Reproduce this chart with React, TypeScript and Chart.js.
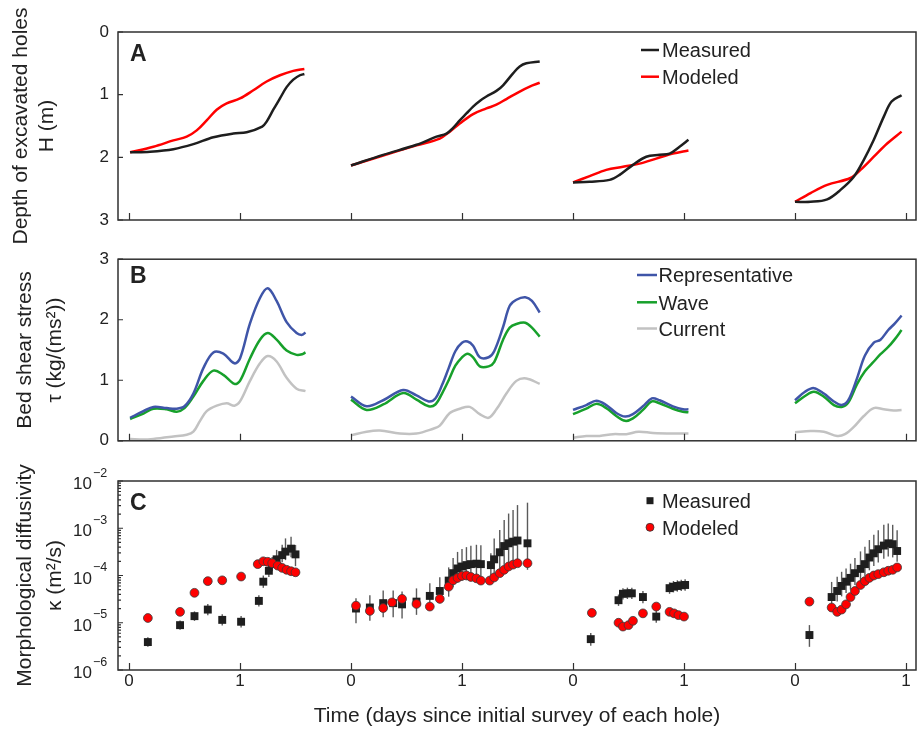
import React, { useEffect, useRef } from 'react';
import { Chart, registerables } from 'chart.js';

Chart.register(...registerables);

const FONT = '"Liberation Sans", Arial, Helvetica, sans-serif';
const TEXT = '#222222';

// ---------- shared x axis ----------
const holeOffsets = [0, 2, 4, 6];
const xTickValues = [0, 1, 2, 3, 4, 5, 6, 7];
const xTickLabels = ['0', '1', '0', '1', '0', '1', '0', '1'];

// ---------- Panel A: depth of excavated holes H (m) ----------
const depthTicks = [0, 1, 2, 3];
const depthMeasuredT = [
  [0.01, 0.19, 0.40, 0.58, 0.76, 0.94, 1.06, 1.20, 1.24, 1.30, 1.36, 1.42, 1.48, 1.54, 1.58],
  [0.0, 0.29, 0.59, 0.77, 0.86, 0.92, 0.98, 1.04, 1.10, 1.16, 1.22, 1.31, 1.37, 1.46, 1.52, 1.58, 1.70],
  [0.0, 0.15, 0.33, 0.42, 0.54, 0.66, 0.78, 0.87, 0.96, 1.04],
  [0.0, 0.14, 0.29, 0.41, 0.53, 0.62, 0.71, 0.80, 0.87, 0.96],
];
const depthMeasured = [
  [1.92, 1.91, 1.87, 1.79, 1.68, 1.62, 1.60, 1.51, 1.43, 1.24, 1.06, 0.88, 0.76, 0.69, 0.67],
  [2.13, 1.96, 1.80, 1.67, 1.62, 1.53, 1.41, 1.30, 1.19, 1.10, 1.03, 0.94, 0.85, 0.66, 0.55, 0.50, 0.47],
  [2.40, 2.39, 2.36, 2.28, 2.12, 1.99, 1.96, 1.94, 1.83, 1.72],
  [2.71, 2.71, 2.67, 2.52, 2.31, 2.04, 1.72, 1.35, 1.11, 1.01],
];
const depthModeledT = [
  [0.01, 0.22, 0.40, 0.52, 0.61, 0.70, 0.79, 0.88, 1.00, 1.12, 1.24, 1.36, 1.48, 1.58],
  [0.0, 0.29, 0.59, 0.80, 0.89, 0.98, 1.10, 1.22, 1.31, 1.40, 1.52, 1.61, 1.70],
  [0.0, 0.15, 0.30, 0.45, 0.60, 0.75, 0.90, 1.04],
  [0.0, 0.14, 0.29, 0.50, 0.59, 0.71, 0.83, 0.96],
];
const depthModeled = [
  [1.92, 1.83, 1.73, 1.67, 1.57, 1.41, 1.24, 1.14, 1.06, 0.93, 0.79, 0.69, 0.62, 0.59],
  [2.13, 1.97, 1.81, 1.70, 1.59, 1.46, 1.31, 1.22, 1.16, 1.07, 0.95, 0.87, 0.81],
  [2.40, 2.30, 2.20, 2.15, 2.10, 2.02, 1.94, 1.89],
  [2.71, 2.57, 2.44, 2.33, 2.20, 1.99, 1.78, 1.59],
];

// ---------- Panel B: bed shear stress ----------
const stressTicks = [0, 1, 2, 3];
const stressT = [
  [0.01, 0.13, 0.22, 0.34, 0.43, 0.50, 0.58, 0.67, 0.76, 0.85, 0.95, 1.00, 1.09, 1.18, 1.25, 1.33, 1.42, 1.51, 1.56, 1.59],
  [0.0, 0.14, 0.29, 0.47, 0.59, 0.70, 0.76, 0.82, 0.88, 0.94, 1.00, 1.05, 1.10, 1.16, 1.24, 1.29, 1.37, 1.43, 1.49, 1.57, 1.63, 1.70],
  [0.0, 0.12, 0.21, 0.30, 0.39, 0.47, 0.54, 0.63, 0.71, 0.78, 0.90, 0.99, 1.04],
  [0.0, 0.09, 0.17, 0.26, 0.35, 0.42, 0.48, 0.56, 0.63, 0.71, 0.77, 0.84, 0.90, 0.96],
];
const stressRepresentative = [
  [0.38, 0.49, 0.56, 0.54, 0.53, 0.57, 0.78, 1.20, 1.46, 1.44, 1.28, 1.36, 1.94, 2.36, 2.52, 2.31, 1.96, 1.78, 1.75, 1.79],
  [0.73, 0.57, 0.67, 0.84, 0.75, 0.65, 0.70, 0.92, 1.20, 1.48, 1.62, 1.64, 1.57, 1.38, 1.38, 1.48, 1.88, 2.23, 2.33, 2.37, 2.31, 2.12],
  [0.51, 0.59, 0.66, 0.59, 0.46, 0.40, 0.44, 0.57, 0.70, 0.67, 0.57, 0.52, 0.52],
  [0.67, 0.81, 0.87, 0.78, 0.65, 0.59, 0.67, 1.04, 1.41, 1.62, 1.67, 1.83, 1.94, 2.07],
];
const stressWave = [
  [0.36, 0.45, 0.53, 0.52, 0.48, 0.54, 0.73, 0.99, 1.16, 1.09, 0.94, 0.99, 1.36, 1.67, 1.78, 1.67, 1.49, 1.42, 1.43, 1.46],
  [0.68, 0.51, 0.60, 0.79, 0.68, 0.57, 0.60, 0.78, 1.00, 1.24, 1.38, 1.44, 1.38, 1.23, 1.23, 1.30, 1.67, 1.87, 1.93, 1.95, 1.87, 1.72],
  [0.44, 0.53, 0.61, 0.54, 0.41, 0.33, 0.37, 0.51, 0.65, 0.62, 0.53, 0.48, 0.47],
  [0.62, 0.74, 0.81, 0.73, 0.59, 0.56, 0.63, 0.94, 1.15, 1.31, 1.43, 1.55, 1.68, 1.83],
];
const stressCurrentT = [
  [0.01, 0.13, 0.22, 0.40, 0.52, 0.58, 0.64, 0.70, 0.79, 0.88, 0.95, 1.00, 1.09, 1.18, 1.25, 1.33, 1.42, 1.51, 1.59],
  [0.0, 0.14, 0.26, 0.44, 0.59, 0.74, 0.80, 0.89, 0.98, 1.07, 1.16, 1.24, 1.31, 1.40, 1.49, 1.58, 1.70],
  [0.0, 0.12, 0.24, 0.36, 0.48, 0.59, 0.72, 0.90, 1.04],
  [0.0, 0.14, 0.26, 0.38, 0.45, 0.53, 0.62, 0.71, 0.80, 0.89, 0.96],
];
const stressCurrent = [
  [0.03, 0.02, 0.03, 0.07, 0.10, 0.15, 0.33, 0.49, 0.58, 0.62, 0.58, 0.65, 0.99, 1.28, 1.40, 1.31, 1.04, 0.86, 0.82],
  [0.09, 0.15, 0.17, 0.12, 0.12, 0.20, 0.25, 0.46, 0.53, 0.56, 0.44, 0.38, 0.52, 0.78, 0.99, 1.03, 0.94],
  [0.05, 0.08, 0.08, 0.11, 0.11, 0.15, 0.13, 0.12, 0.12],
  [0.14, 0.16, 0.15, 0.08, 0.11, 0.23, 0.41, 0.54, 0.52, 0.50, 0.51],
];

// ---------- Panel C: morphological diffusivity ----------
const kappaTicks = [1e-6, 1e-5, 1e-4, 1e-3, 1e-2];
const kappaTickExponents = ['\u22126', '\u22125', '\u22124', '\u22123', '\u22122'];
const kappaMeasuredT = [
  [0.17, 0.46, 0.59, 0.71, 0.84, 1.01, 1.17, 1.21, 1.26, 1.29, 1.33, 1.38, 1.41, 1.46, 1.50],
  [0.045, 0.17, 0.29, 0.38, 0.46, 0.59, 0.71, 0.80, 0.88, 0.92, 0.96, 1.00, 1.04, 1.08, 1.13, 1.17, 1.26, 1.29, 1.34, 1.38, 1.42, 1.46, 1.50, 1.59],
  [0.16, 0.41, 0.45, 0.49, 0.53, 0.63, 0.75, 0.87, 0.905, 0.94, 0.975, 1.01],
  [0.13, 0.33, 0.38, 0.42, 0.46, 0.50, 0.54, 0.59, 0.63, 0.67, 0.71, 0.75, 0.80, 0.84, 0.88, 0.92],
];
const kappaMeasured = [
  [3.9e-6, 8.9e-6, 1.38e-5, 1.9e-5, 1.15e-5, 1.05e-5, 2.9e-5, 7.4e-5, 1.26e-4, 1.74e-4, 2.2e-4, 2.7e-4, 3.2e-4, 3.7e-4, 2.8e-4],
  [2.0e-5, 2.1e-5, 2.6e-5, 2.6e-5, 2.45e-5, 2.8e-5, 3.7e-5, 4.7e-5, 7.8e-5, 1.12e-4, 1.41e-4, 1.55e-4, 1.66e-4, 1.74e-4, 1.78e-4, 1.74e-4, 1.66e-4, 2.2e-4, 3.1e-4, 4.2e-4, 4.8e-4, 5.2e-4, 5.5e-4, 4.8e-4],
  [4.5e-6, 3.0e-5, 4.1e-5, 4.2e-5, 4.2e-5, 3.5e-5, 1.35e-5, 5.4e-5, 5.8e-5, 6.0e-5, 6.2e-5, 6.3e-5],
  [5.5e-6, 3.5e-5, 4.7e-5, 6.0e-5, 7.4e-5, 8.9e-5, 1.12e-4, 1.38e-4, 1.74e-4, 2.4e-4, 2.95e-4, 3.6e-4, 4.3e-4, 4.8e-4, 4.6e-4, 3.3e-4],
];
// error bar extent in decades above / below each measured value
const kappaErrUp = [
  [0.1, 0.1, 0.1, 0.12, 0.12, 0.12, 0.12, 0.13, 0.13, 0.15, 0.2, 0.22, 0.28, 0.25, 0.2],
  [0.22, 0.26, 0.27, 0.27, 0.27, 0.28, 0.27, 0.29, 0.28, 0.32, 0.35, 0.37, 0.38, 0.39, 0.4, 0.4, 0.25, 0.44, 0.47, 0.55, 0.63, 0.67, 0.75, 0.86],
  [0.13, 0.12, 0.12, 0.12, 0.12, 0.13, 0.13, 0.12, 0.12, 0.12, 0.12, 0.12],
  [0.21, 0.32, 0.3, 0.3, 0.28, 0.3, 0.32, 0.37, 0.37, 0.37, 0.39, 0.4, 0.44, 0.42, 0.41, 0.44],
];
const kappaErrDown = [
  [0.1, 0.1, 0.1, 0.12, 0.12, 0.12, 0.12, 0.13, 0.13, 0.15, 0.15, 0.15, 0.18, 0.18, 0.25],
  [0.31, 0.28, 0.3, 0.3, 0.3, 0.28, 0.23, 0.26, 0.34, 0.3, 0.3, 0.3, 0.3, 0.3, 0.3, 0.3, 0.25, 0.35, 0.35, 0.4, 0.4, 0.45, 0.45, 0.56],
  [0.14, 0.12, 0.12, 0.12, 0.12, 0.13, 0.13, 0.12, 0.12, 0.12, 0.12, 0.12],
  [0.25, 0.22, 0.22, 0.22, 0.24, 0.25, 0.25, 0.25, 0.25, 0.27, 0.27, 0.28, 0.28, 0.28, 0.28, 0.23],
];
const kappaModeledT = [
  [0.17, 0.46, 0.59, 0.71, 0.84, 1.01, 1.16, 1.21, 1.25, 1.29, 1.34, 1.38, 1.42, 1.46, 1.50],
  [0.045, 0.17, 0.29, 0.37, 0.46, 0.59, 0.71, 0.80, 0.88, 0.92, 0.96, 1.00, 1.04, 1.08, 1.13, 1.17, 1.25, 1.29, 1.34, 1.38, 1.42, 1.46, 1.50, 1.59],
  [0.17, 0.41, 0.45, 0.50, 0.54, 0.63, 0.75, 0.87, 0.91, 0.95, 1.00],
  [0.13, 0.33, 0.38, 0.42, 0.46, 0.50, 0.54, 0.59, 0.63, 0.67, 0.71, 0.75, 0.80, 0.84, 0.88, 0.92],
];
const kappaModeled = [
  [1.26e-5, 1.7e-5, 4.3e-5, 7.6e-5, 7.9e-5, 9.5e-5, 1.74e-4, 2.0e-4, 1.95e-4, 1.82e-4, 1.62e-4, 1.45e-4, 1.32e-4, 1.23e-4, 1.17e-4],
  [2.3e-5, 1.78e-5, 2.05e-5, 2.7e-5, 3.2e-5, 2.5e-5, 2.2e-5, 3.2e-5, 5.8e-5, 7.9e-5, 8.9e-5, 9.8e-5, 1.0e-4, 9.3e-5, 8.7e-5, 7.8e-5, 7.8e-5, 9.1e-5, 1.12e-4, 1.32e-4, 1.55e-4, 1.7e-4, 1.82e-4, 1.82e-4],
  [1.62e-5, 1.0e-5, 8.3e-6, 8.9e-6, 1.1e-5, 1.58e-5, 2.2e-5, 1.7e-5, 1.58e-5, 1.45e-5, 1.35e-5],
  [2.8e-5, 2.1e-5, 1.7e-5, 1.9e-5, 2.45e-5, 3.5e-5, 4.7e-5, 6.3e-5, 7.6e-5, 8.9e-5, 1.0e-4, 1.07e-4, 1.17e-4, 1.26e-4, 1.32e-4, 1.48e-4],
];

// ---------- colours ----------
const C_MEAS = '#1e1e1e';
const C_MOD = '#ff0000';
const C_REP = '#3f55a8';
const C_WAVE = '#17a02b';
const C_CUR = '#c2c2c2';

type Pt = { x: number; y: number | null };
function series(ts: number[][], vs: number[][]): Pt[] {
  const out: Pt[] = [];
  ts.forEach((t, h) => {
    if (h > 0) out.push({ x: holeOffsets[h] - 0.5, y: null });
    t.forEach((tt, j) => out.push({ x: holeOffsets[h] + tt, y: vs[h][j] }));
  });
  return out;
}

function xScale(showLabels: boolean, height: number): any {
  return {
    type: 'linear',
    min: -0.099,
    max: 7.09,
    afterBuildTicks: (s: any) => {
      s.ticks = xTickValues.map((v) => ({ value: v }));
    },
    afterFit: (s: any) => {
      s.height = height;
    },
    grid: { display: false, drawTicks: false },
    border: { display: false },
    ticks: {
      display: showLabels,
      autoSkip: false,
      maxRotation: 0,
      padding: 1,
      color: TEXT,
      font: { family: FONT, size: 17 },
      callback: (v: number) => {
        const i = xTickValues.indexOf(v);
        return i >= 0 ? xTickLabels[i] : '';
      },
    },
    title: showLabels
      ? {
          display: true,
          text: 'Time (days since initial survey of each hole)',
          color: TEXT,
          font: { family: FONT, size: 21 },
          padding: { top: 0, bottom: 1 },
        }
      : { display: false },
  };
}

function yTitle(lines: string[], lineHeight: number, padTop: number): any {
  return {
    display: true,
    text: lines,
    color: TEXT,
    font: { family: FONT, size: 21, lineHeight: lineHeight + 'px' },
    padding: { top: padTop, bottom: 0 },
  };
}

type LegendItem = { kind: 'line' | 'square' | 'circle'; color: string; label: string; y: number };

function decorPlugin(cfg: {
  letter: string;
  letterBaseline: number;
  markerX0: number;
  markerX1: number;
  textX: number;
  legend: LegendItem[];
  yMajor: number[];
  yMinor?: number[];
  logLabels?: boolean;
  errorBars?: boolean;
}): any {
  return {
    id: 'decor',
    beforeDatasetsDraw(chart: any) {
      if (!cfg.errorBars) return;
      const { ctx } = chart;
      const xs = chart.scales.x;
      const ys = chart.scales.y;
      ctx.save();
      ctx.strokeStyle = '#5a5a5a';
      ctx.lineWidth = 1.4;
      kappaMeasuredT.forEach((t, h) =>
        t.forEach((tt, j) => {
          const v = kappaMeasured[h][j];
          const px = xs.getPixelForValue(holeOffsets[h] + tt);
          const yTop = ys.getPixelForValue(v * Math.pow(10, kappaErrUp[h][j]));
          const yBot = ys.getPixelForValue(v / Math.pow(10, kappaErrDown[h][j]));
          ctx.beginPath();
          ctx.moveTo(px, yTop);
          ctx.lineTo(px, yBot);
          ctx.stroke();
        })
      );
      ctx.restore();
    },
    afterDraw(chart: any) {
      const { ctx, chartArea: a } = chart;
      const xs = chart.scales.x;
      const ys = chart.scales.y;
      ctx.save();
      // frame
      ctx.strokeStyle = '#303030';
      ctx.lineWidth = 1.5;
      ctx.strokeRect(a.left, a.top, a.right - a.left, a.bottom - a.top);
      // inward ticks
      ctx.lineWidth = 1.2;
      ctx.beginPath();
      xTickValues.forEach((v) => {
        const px = Math.round(xs.getPixelForValue(v)) + 0.5;
        ctx.moveTo(px, a.bottom);
        ctx.lineTo(px, a.bottom - 7);
      });
      cfg.yMajor.forEach((v) => {
        const py = ys.getPixelForValue(v);
        ctx.moveTo(a.left, py);
        ctx.lineTo(a.left + 5, py);
      });
      (cfg.yMinor || []).forEach((v) => {
        const py = ys.getPixelForValue(v);
        ctx.moveTo(a.left, py);
        ctx.lineTo(a.left + 3, py);
      });
      ctx.stroke();
      // log tick labels
      if (cfg.logLabels) {
        ctx.fillStyle = TEXT;
        kappaTicks.forEach((v, i) => {
          const py = ys.getPixelForValue(v);
          ctx.font = `17px ${FONT}`;
          ctx.textAlign = 'right';
          ctx.textBaseline = 'alphabetic';
          ctx.fillText('10', 92, py + 8);
          ctx.font = `12.5px ${FONT}`;
          ctx.textAlign = 'left';
          ctx.fillText(kappaTickExponents[i], 93, py - 4.5);
        });
      }
      // panel letter
      ctx.fillStyle = TEXT;
      ctx.font = `bold 23px ${FONT}`;
      ctx.textAlign = 'left';
      ctx.textBaseline = 'alphabetic';
      ctx.fillText(cfg.letter, 130, cfg.letterBaseline);
      // legend
      cfg.legend.forEach((it) => {
        const cx = (cfg.markerX0 + cfg.markerX1) / 2;
        if (it.kind === 'line') {
          ctx.strokeStyle = it.color;
          ctx.lineWidth = 2.5;
          ctx.beginPath();
          ctx.moveTo(cfg.markerX0, it.y);
          ctx.lineTo(cfg.markerX1, it.y);
          ctx.stroke();
        } else if (it.kind === 'square') {
          ctx.fillStyle = it.color;
          ctx.fillRect(cx - 3.5, it.y - 3.5, 7, 7);
        } else {
          ctx.fillStyle = it.color;
          ctx.strokeStyle = '#333';
          ctx.lineWidth = 0.8;
          ctx.beginPath();
          ctx.arc(cx, it.y, 4, 0, Math.PI * 2);
          ctx.fill();
          ctx.stroke();
        }
        ctx.fillStyle = TEXT;
        ctx.font = `20px ${FONT}`;
        ctx.textAlign = 'left';
        ctx.textBaseline = 'alphabetic';
        ctx.fillText(it.label, cfg.textX, it.y + 7.4);
      });
      ctx.restore();
    },
  };
}

function lineDs(label: string, data: Pt[], color: string): any {
  return {
    label,
    data,
    borderColor: color,
    backgroundColor: color,
    borderWidth: 2.5,
    pointRadius: 0,
    tension: 0.35,
    spanGaps: false,
    fill: false,
  };
}

function baseOptions(padTop: number): any {
  return {
    animation: false,
    responsive: false,
    events: [],
    layout: { autoPadding: false, padding: { top: padTop, right: 1, bottom: 0, left: 0 } },
    plugins: { legend: { display: false }, tooltip: { enabled: false } },
  };
}

function configA(): any {
  return {
    type: 'line',
    data: {
      datasets: [
        lineDs('Measured', series(depthMeasuredT, depthMeasured), C_MEAS),
        lineDs('Modeled', series(depthModeledT, depthModeled), C_MOD),
      ],
    },
    options: {
      ...baseOptions(32),
      scales: {
        x: xScale(false, 34),
        y: {
          type: 'linear',
          min: 0,
          max: 3,
          reverse: true,
          afterBuildTicks: (s: any) => {
            s.ticks = depthTicks.map((v) => ({ value: v }));
          },
          afterFit: (s: any) => {
            s.width = 118;
          },
          grid: { display: false, drawTicks: false },
          border: { display: false },
          ticks: { padding: 9, color: TEXT, font: { family: FONT, size: 17 }, callback: (v: number) => String(v) },
          title: yTitle(['Depth of excavated holes', 'H (m)'], 26, 8),
        },
      },
    },
    plugins: [
      decorPlugin({
        letter: 'A',
        letterBaseline: 61,
        markerX0: 641,
        markerX1: 659,
        textX: 662,
        legend: [
          { kind: 'line', color: C_MEAS, label: 'Measured', y: 50 },
          { kind: 'line', color: C_MOD, label: 'Modeled', y: 76.7 },
        ],
        yMajor: depthTicks,
      }),
    ],
  };
}

function configB(): any {
  return {
    type: 'line',
    data: {
      datasets: [
        lineDs('Representative', series(stressT, stressRepresentative), C_REP),
        lineDs('Wave', series(stressT, stressWave), C_WAVE),
        lineDs('Current', series(stressCurrentT, stressCurrent), C_CUR),
      ],
    },
    options: {
      ...baseOptions(16),
      scales: {
        x: xScale(false, 14),
        y: {
          type: 'linear',
          min: 0,
          max: 3,
          afterBuildTicks: (s: any) => {
            s.ticks = stressTicks.map((v) => ({ value: v }));
          },
          afterFit: (s: any) => {
            s.width = 118;
          },
          grid: { display: false, drawTicks: false },
          border: { display: false },
          ticks: { padding: 9, color: TEXT, font: { family: FONT, size: 17 }, callback: (v: number) => String(v) },
          title: yTitle(['Bed shear stress', '\u03C4 (kg/(ms\u00B2))'], 30, 10),
        },
      },
    },
    plugins: [
      decorPlugin({
        letter: 'B',
        letterBaseline: 42.7,
        markerX0: 637,
        markerX1: 657,
        textX: 658.5,
        legend: [
          { kind: 'line', color: C_REP, label: 'Representative', y: 35 },
          { kind: 'line', color: C_WAVE, label: 'Wave', y: 62.3 },
          { kind: 'line', color: C_CUR, label: 'Current', y: 88.5 },
        ],
        yMajor: stressTicks,
      }),
    ],
  };
}

function configC(): any {
  const minor: number[] = [];
  kappaTicks.slice(0, -1).forEach((d) => {
    for (let m = 2; m <= 9; m++) minor.push(d * m);
  });
  return {
    type: 'scatter',
    data: {
      datasets: [
        {
          label: 'Modeled',
          data: series(kappaModeledT, kappaModeled),
          pointStyle: 'circle',
          pointRadius: 4.4,
          backgroundColor: C_MOD,
          borderColor: '#3a3a3a',
          borderWidth: 0.8,
          showLine: false,
        },
        {
          label: 'Measured',
          data: series(kappaMeasuredT, kappaMeasured),
          pointStyle: 'rect',
          pointRadius: 5.6,
          backgroundColor: C_MEAS,
          borderColor: C_MEAS,
          borderWidth: 0,
          showLine: false,
        },
      ],
    },
    options: {
      ...baseOptions(21),
      scales: {
        x: xScale(true, 60),
        y: {
          type: 'logarithmic',
          min: 1e-6,
          max: 1e-2,
          afterBuildTicks: (s: any) => {
            s.ticks = kappaTicks.map((v) => ({ value: v }));
          },
          afterFit: (s: any) => {
            s.width = 118;
          },
          grid: { display: false, drawTicks: false },
          border: { display: false },
          ticks: { display: false },
          title: yTitle(['Morphological diffusivity', '\u03BA (m\u00B2/s)'], 30, 10),
        },
      },
    },
    plugins: [
      decorPlugin({
        letter: 'C',
        letterBaseline: 50,
        markerX0: 646,
        markerX1: 654,
        textX: 662,
        legend: [
          { kind: 'square', color: C_MEAS, label: 'Measured', y: 40.7 },
          { kind: 'circle', color: C_MOD, label: 'Modeled', y: 67.3 },
        ],
        yMajor: kappaTicks,
        yMinor: minor,
        logLabels: true,
        errorBars: true,
      }),
    ],
  };
}

function Panel({ top, height, make }: { top: number; height: number; make: () => any }) {
  const ref = useRef<HTMLCanvasElement>(null);
  useEffect(() => {
    const chart = new Chart(ref.current as HTMLCanvasElement, make());
    return () => chart.destroy();
  }, []);
  return (
    <canvas
      ref={ref}
      width={917}
      height={height}
      style={{ position: 'absolute', left: 0, top, width: 917, height, display: 'block' }}
    />
  );
}

export default function App() {
  return (
    <div style={{ position: 'absolute', left: 0, top: 0, width: 917, height: 730, background: '#ffffff', overflow: 'hidden' }}>
      <Panel top={0} height={254} make={configA} />
      <Panel top={240} height={220} make={configB} />
      <Panel top={460} height={270} make={configC} />
    </div>
  );
}
